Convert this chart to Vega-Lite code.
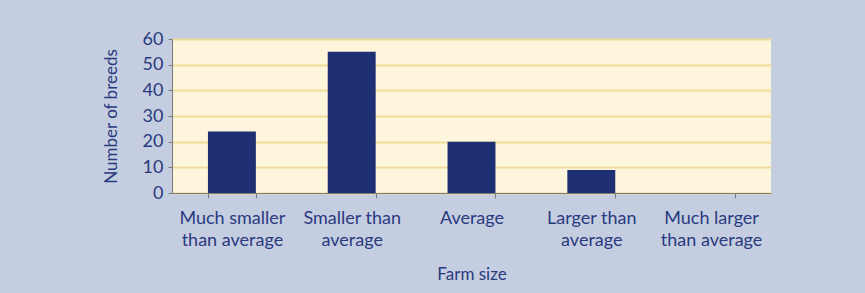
{
  "$schema": "https://vega.github.io/schema/vega-lite/v6.json",
  "autosize": "none",
  "width": 599,
  "height": 154,
  "padding": {"left": 172, "top": 39, "right": 94, "bottom": 100},
  "background": "#c5cee1",
  "data": {"values": [
    {"size": "Much smaller|than average", "breeds": 24, "order": 1},
    {"size": "Smaller than|average", "breeds": 55, "order": 2},
    {"size": "Average", "breeds": 20, "order": 3},
    {"size": "Larger than|average", "breeds": 9, "order": 4},
    {"size": "Much larger|than average", "breeds": 0, "order": 5}
  ]},
  "mark": {"type": "bar", "color": "#1f2f74"},
  "encoding": {
    "x": {
      "field": "size", "type": "nominal", "sort": {"field": "order"},
      "scale": {"paddingInner": 0.6, "paddingOuter": 0.3},
      "axis": {
        "title": "Farm size", "labelAngle": 0,
        "labelExpr": "datum.value ? split(datum.value, '|') : ''",
        "labelLineHeight": 22, "labelPadding": 11,
        "tickBand": "extent", "tickSize": 5,
        "titlePadding": 17
      }
    },
    "y": {
      "field": "breeds", "type": "quantitative",
      "scale": {"domain": [0, 60]},
      "axis": {
        "title": "Number of breeds", "values": [0, 10, 20, 30, 40, 50, 60],
        "tickSize": 4, "labelPadding": 5, "titlePadding": 22,
        "domain": true, "grid": true
      }
    }
  },
  "config": {
    "font": "Lato",
    "view": {"fill": "#fdf6dc", "stroke": null},
    "axis": {
      "labelFont": "Lato", "titleFont": "Lato",
      "labelFontSize": 18, "titleFontSize": 17,
      "labelColor": "#2a3a7e", "titleColor": "#2a3a7e",
      "titleFontWeight": "normal",
      "domainColor": "#7a7a7a", "tickColor": "#7a7a7a",
      "gridColor": "#f0dc98", "gridWidth": 2, "gridOpacity": 1
    }
  }
}
